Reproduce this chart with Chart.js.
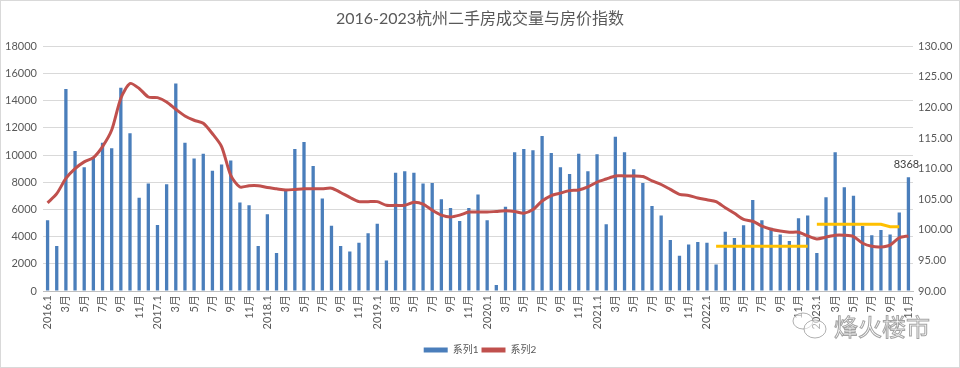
<!DOCTYPE html>
<html>
<head>
<meta charset="utf-8">
<title>2016-2023杭州二手房成交量与房价指数</title>
<script src="https://cdn.jsdelivr.net/npm/chart.js@4/dist/chart.umd.min.js"></script>
<style>
  html, body { margin: 0; padding: 0; background: #fff; }
  #wrap { position: relative; width: 958px; height: 366px; border: 1px solid #d9d9d9; }
</style>
</head>
<body>
<div id="wrap"><canvas id="chart" width="958" height="366"></canvas></div>
<script>
// months 2016.1 .. 2023.11
var years = [2016, 2017, 2018, 2019, 2020, 2021, 2022, 2023];
var lastMonth = 11;

// 系列1: monthly second-hand deals (sets)
var volume2016 = [5200, 3300, 14850, 10300, 9100, 9850, 10900, 10500, 14950, 11600, 6850, 7900];
var volume2017 = [4850, 7850, 15250, 10900, 9750, 10100, 8850, 9300, 9600, 6500, 6300, 3300];
var volume2018 = [5650, 2800, 7450, 10450, 10950, 9200, 6800, 4800, 3300, 2900, 3550, 4250];
var volume2019 = [4950, 2250, 8700, 8800, 8700, 7900, 7950, 6750, 6100, 5150, 6100, 7100];
var volume2020 = [5200, 450, 6200, 10200, 10450, 10350, 11400, 10150, 9100, 8600, 10100, 8800];
var volume2021 = [10050, 4900, 11350, 10200, 8950, 7950, 6250, 5550, 3750, 2600, 3420, 3600];
var volume2022 = [3550, 1950, 4350, 3900, 4830, 6700, 5200, 4650, 4150, 3680, 5350, 5550];
var volume2023 = [2800, 6900, 10200, 7620, 7000, 4780, 4100, 4480, 4150, 5770, 8368];

// 系列2: price index
var index2016 = [104.4, 105.9, 108.4, 110.0, 111.1, 111.8, 113.6, 116.3, 121.5, 123.9, 123.1, 121.7];
var index2017 = [121.6, 120.9, 119.7, 118.6, 117.9, 117.4, 115.7, 113.6, 108.9, 107.0, 107.2, 107.2];
var index2018 = [106.9, 106.7, 106.5, 106.6, 106.7, 106.7, 106.7, 106.8, 106.1, 105.3, 104.6, 104.6];
var index2019 = [104.6, 104.0, 104.0, 104.0, 104.5, 104.2, 103.2, 102.4, 102.1, 102.4, 102.9, 102.9];
var index2020 = [102.9, 103.0, 103.1, 103.0, 102.7, 103.3, 104.7, 105.6, 106.0, 106.4, 106.5, 107.0];
var index2021 = [107.8, 108.3, 108.8, 108.8, 108.8, 108.7, 108.0, 107.4, 106.6, 105.8, 105.6, 105.2];
var index2022 = [104.9, 104.6, 103.6, 102.7, 101.7, 101.4, 100.6, 100.1, 99.8, 99.6, 99.6, 99.0];
var index2023 = [98.5, 98.8, 99.1, 99.1, 98.9, 97.8, 97.3, 97.2, 97.5, 98.7, 99.0];

// yellow reference levels (start label + values)
var levelA_start = '2022.2';
var levelA = [97.3, 97.3, 97.3, 97.3, 97.3, 97.3, 97.3, 97.3, 97.3, 97.3, 97.3];
var levelB_start = '2023.1';
var levelB = [100.9, 100.9, 100.9, 100.9, 100.9, 100.9, 100.9, 100.9, 100.5, 100.5];

var volumeTicks = [0, 2000, 4000, 6000, 8000, 10000, 12000, 14000, 16000, 18000];
var indexTicks = [90, 95, 100, 105, 110, 115, 120, 125, 130];

var categories = [];
var tickLabels = [];
years.forEach(function (y, yi) {
    var n = (yi === years.length - 1) ? lastMonth : 12;
    for (var m = 1; m <= n; m++) {
        categories.push(y + '.' + m);
        tickLabels.push(m === 1 ? y + '.1' : m + '月');
    }
});

var volume = [].concat(volume2016, volume2017, volume2018, volume2019, volume2020, volume2021, volume2022, volume2023);
var priceIndex = [].concat(index2016, index2017, index2018, index2019, index2020, index2021, index2022, index2023);

function placeLevel(startLabel, values) {
    var out = categories.map(function () { return null; });
    var s = categories.indexOf(startLabel);
    values.forEach(function (v, i) { out[s + i] = v; });
    return out;
}

var FONT = "Lato, 'Noto Sans CJK SC', sans-serif";
var GREY = '#595959';

// value label over the last bar + watermark
var extras = {
    id: 'extras',
    afterDatasetsDraw: function (chart) {
        var ctx = chart.ctx;
        var meta = chart.getDatasetMeta(0);
        var last = meta.data[meta.data.length - 1];
        ctx.save();
        ctx.font = '11px ' + FONT;
        ctx.fillStyle = '#404040';
        ctx.textAlign = 'center';
        ctx.textBaseline = 'bottom';
        ctx.fillText(String(volume[volume.length - 1]), last.x - 2, last.y - 7);
        ctx.restore();
    },
    afterDraw: function (chart) {
        var ctx = chart.ctx;
        ctx.save();
        ctx.strokeStyle = 'rgba(150,150,150,0.75)';
        ctx.fillStyle = 'rgba(255,255,255,0.55)';
        ctx.lineWidth = 1;
        ctx.beginPath();
        ctx.ellipse(802, 320, 10, 8, 0, 0, Math.PI * 2);
        ctx.fill(); ctx.stroke();
        ctx.beginPath();
        ctx.ellipse(814, 328, 11, 9, 0, 0, Math.PI * 2);
        ctx.fill(); ctx.stroke();
        ctx.font = '24px ' + FONT;
        ctx.textBaseline = 'middle';
        ctx.fillStyle = 'rgba(255,255,255,0.6)';
        ctx.fillText('烽火楼市', 833, 327);
        ctx.strokeStyle = 'rgba(140,140,140,0.8)';
        ctx.strokeText('烽火楼市', 833, 327);
        ctx.restore();
    }
};

new Chart(document.getElementById('chart'), {
    type: 'bar',
    data: {
        labels: categories,
        datasets: [{
            label: '系列1',
            data: volume,
            backgroundColor: '#4a7ebb',
            borderWidth: 0,
            barPercentage: 0.36,
            categoryPercentage: 1,
            yAxisID: 'y',
            order: 2
        }, {
            type: 'line',
            label: '系列2',
            data: priceIndex,
            borderColor: '#c0504d',
            backgroundColor: '#c0504d',
            borderWidth: 3,
            pointRadius: 0,
            tension: 0.25,
            yAxisID: 'y1',
            order: 1
        }, {
            type: 'line',
            label: 'levelA',
            data: placeLevel(levelA_start, levelA),
            borderColor: '#ffc000',
            borderWidth: 3,
            pointRadius: 0,
            spanGaps: false,
            yAxisID: 'y1',
            order: 0
        }, {
            type: 'line',
            label: 'levelB',
            data: placeLevel(levelB_start, levelB),
            borderColor: '#ffc000',
            borderWidth: 3,
            pointRadius: 0,
            spanGaps: false,
            yAxisID: 'y1',
            order: 0
        }]
    },
    options: {
        responsive: false,
        animation: false,
        layout: { padding: { left: 0, right: 0, top: 0, bottom: 2 } },
        plugins: {
            title: {
                display: true,
                text: '2016-2023杭州二手房成交量与房价指数',
                color: GREY,
                font: { family: FONT, size: 16, weight: 'normal' },
                padding: { top: 8, bottom: 18 }
            },
            legend: {
                position: 'bottom',
                labels: {
                    color: GREY,
                    font: { family: FONT, size: 10 },
                    boxWidth: 24,
                    boxHeight: 5,
                    padding: 3,
                    sort: function (a, b) { return a.datasetIndex - b.datasetIndex; },
                    filter: function (item) { return item.datasetIndex < 2; },
                    generateLabels: function (chart) {
                        return Chart.defaults.plugins.legend.labels.generateLabels(chart).map(function (it) {
                            it.lineWidth = 0;
                            return it;
                        });
                    }
                }
            },
            tooltip: { enabled: false }
        },
        scales: {
            x: {
                offset: true,
                grid: { display: false, drawTicks: false },
                border: { display: true, color: '#bfbfbf' },
                afterFit: function (axis) { axis.height = 51; },
                ticks: {
                    autoSkip: false,
                    minRotation: 90,
                    maxRotation: 90,
                    padding: 4,
                    color: GREY,
                    font: { family: FONT, size: 11 },
                    callback: function (v, i) { return i % 2 === 0 ? tickLabels[i] : ''; }
                }
            },
            y: {
                position: 'left',
                min: volumeTicks[0],
                max: volumeTicks[volumeTicks.length - 1],
                afterBuildTicks: function (axis) {
                    axis.ticks = volumeTicks.map(function (v) { return { value: v }; });
                },
                afterFit: function (axis) { axis.width = 42; },
                grid: { color: '#d9d9d9', drawTicks: false },
                border: { display: false },
                ticks: {
                    padding: 6,
                    color: GREY,
                    font: { family: FONT, size: 11 },
                    callback: function (v) { return String(v); }
                }
            },
            y1: {
                position: 'right',
                min: indexTicks[0],
                max: indexTicks[indexTicks.length - 1],
                afterBuildTicks: function (axis) {
                    axis.ticks = indexTicks.map(function (v) { return { value: v }; });
                },
                afterFit: function (axis) { axis.width = 46; },
                grid: { drawOnChartArea: false, drawTicks: false },
                border: { display: false },
                ticks: {
                    padding: 5,
                    color: GREY,
                    font: { family: FONT, size: 11 },
                    callback: function (v) { return Number(v).toFixed(2); }
                }
            }
        }
    },
    plugins: [extras]
});
</script>
</body>
</html>
